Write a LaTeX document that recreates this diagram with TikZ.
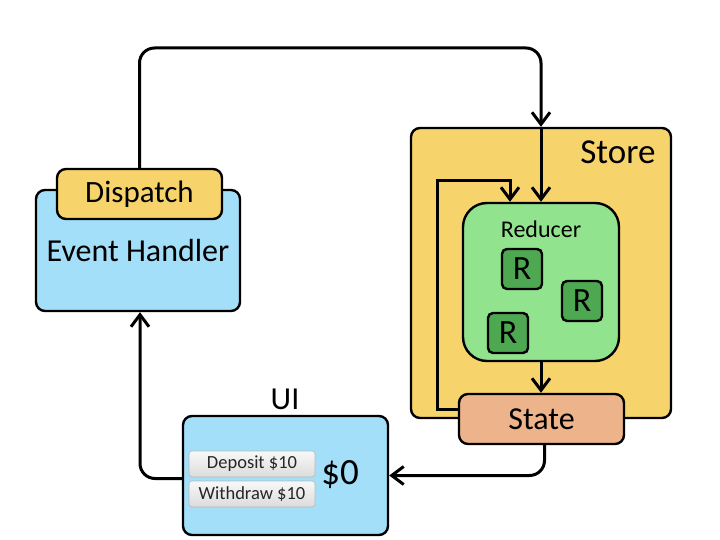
\documentclass[tikz,border=0pt]{standalone}
\usepackage{fontspec}
\setmainfont{Carlito}
\usetikzlibrary{arrows.meta}
\definecolor{handlerblue}{HTML}{A3DFF9}
\definecolor{storeyellow}{HTML}{F7D36B}
\definecolor{reducergreen}{HTML}{92E38E}
\definecolor{rgreen}{HTML}{4EA852}
\definecolor{stateorange}{HTML}{EDB38B}
\begin{document}
\begin{tikzpicture}[x=1pt, y=-1pt,
  box/.style={draw, line width=2.4pt, rounded corners=9pt, inner sep=0pt},
  rbox/.style={box, rounded corners=5pt, fill=rgreen, minimum size=40pt, font=\fontsize{34}{34}\selectfont},
  btn/.style={draw=gray!55, line width=0.6pt, rounded corners=3pt, top color=gray!5, bottom color=gray!28,
    minimum width=126pt, minimum height=26pt, text=black!85, font=\fontsize{18.5}{18.5}\selectfont},
  flow/.style={line width=3pt, -{Straight Barb[length=12pt,width=18pt]}, rounded corners=15pt}]
  \useasboundingbox (0,0) rectangle (720,540);

  % event handler side
  \node[box, fill=handlerblue, minimum width=204pt, minimum height=121pt,
    font=\fontsize{32}{32}\selectfont] (handler) at (138,250.5) {Event Handler};
  \node[box, fill=storeyellow, minimum width=165pt, minimum height=50pt,
    font=\fontsize{31}{31}\selectfont] (dispatch) at (139.5,194) {\raisebox{-2pt}{Dispatch}};

  % store
  \node[box, fill=storeyellow, minimum width=260pt, minimum height=290pt] (store) at (541,273) {};
  \node[anchor=east, font=\fontsize{35}{35}\selectfont] (storelabel) at (659,152) {Store};
  \node[box, rounded corners=24pt, fill=reducergreen, minimum width=156pt, minimum height=158pt] (reducer) at (541,282) {};
  \node[font=\fontsize{24}{24}\selectfont] (reducerlabel) at (541,229) {Reducer};
  \node[rbox] (r1) at (522,269) {R};
  \node[rbox] (r2) at (582,301) {R};
  \node[rbox] (r3) at (508,333) {R};
  \node[box, fill=stateorange, minimum width=165pt, minimum height=50pt,
    font=\fontsize{32}{32}\selectfont] (state) at (541.5,419) {State};

  % ui
  \node[box, fill=handlerblue, minimum width=205pt, minimum height=119pt] (ui) at (285.5,475.5) {};
  \node[font=\fontsize{32}{32}\selectfont] (uilabel) at (285,399) {UI};
  \node[btn] (deposit) at (252,464) {Deposit \$10};
  \node[btn] (withdraw) at (252,494) {Withdraw \$10};
  \node[font=\fontsize{37}{37}\selectfont] (balance) at (340,475) {\$0};

  % connectors
  \coordinate (topbend) at (541,48);
  \draw[flow] (dispatch.north) |- (topbend) -- (store.north);
  \draw[flow] (store.north) -- (reducer.north);
  \draw[flow, sharp corners] ([yshift=10pt]state.west) -| (437,181) -| ([xshift=-31pt]reducer.north);
  \draw[flow] (reducer.south) -- (reducer.south |- state.north);
  \draw[flow] ([xshift=3pt]state.south) |- (ui.east);
  \draw[flow] ([yshift=-3pt]ui.west) -| ([xshift=2pt]handler.south);
\end{tikzpicture}
\end{document}
